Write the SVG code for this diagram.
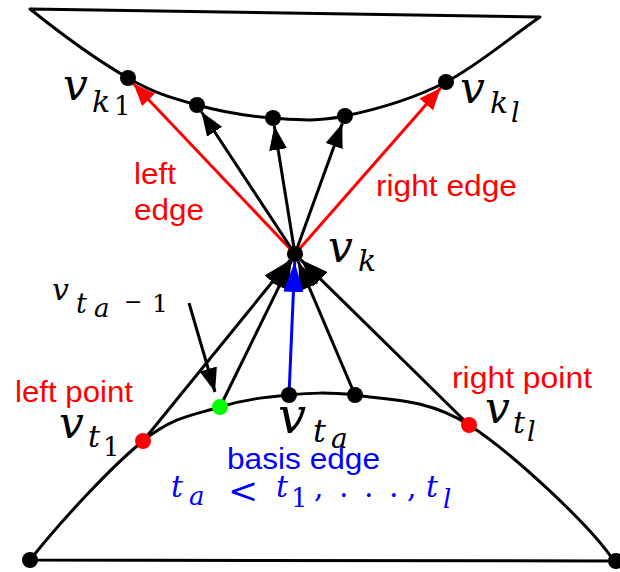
<svg xmlns="http://www.w3.org/2000/svg" width="620" height="572" viewBox="0 0 620 572">
<style>
.curve{fill:none;stroke:#000;stroke-width:3;stroke-linejoin:round}
.blk{stroke:#000;stroke-width:3;fill:none}
.red{stroke:#ff0000;stroke-width:3;fill:none}
.blue{stroke:#0000ff;stroke-width:3;fill:none}
.lbl{font-family:"Liberation Sans",Arial,sans-serif;font-size:30px}
.math{font-family:"DejaVu Serif","Liberation Serif",serif;font-style:italic;fill:#000}
.bm{font-family:"DejaVu Serif","Liberation Serif",serif;font-style:italic;fill:#0000ff}
.up{font-style:normal}
</style>
<defs>
<marker id="aBlkS" markerUnits="userSpaceOnUse" markerWidth="24" markerHeight="18" viewBox="0 0 24 18" refX="24" refY="9" orient="auto"><path d="M0,0 L24,9 L0,18 z" fill="#000"/></marker>
<marker id="aRedS" markerUnits="userSpaceOnUse" markerWidth="22" markerHeight="18" viewBox="0 0 22 18" refX="22" refY="9" orient="auto"><path d="M0,0 L22,9 L0,18 z" fill="#ff0000"/></marker>
<marker id="aBlkB" markerUnits="userSpaceOnUse" markerWidth="28" markerHeight="20" viewBox="0 0 28 20" refX="28" refY="10" orient="auto"><path d="M0,0 L28,10 L0,20 z" fill="#000"/></marker>
<marker id="aBlueB" markerUnits="userSpaceOnUse" markerWidth="30" markerHeight="20" viewBox="0 0 30 20" refX="30" refY="10" orient="auto"><path d="M0,0 L30,10 L0,20 z" fill="#0000ff"/></marker>
</defs>

<g id="top-region">
<path class="curve" d="M30,9 L540,17 C508,39 477.8,65.5 446,82 C414.2,98.5 373.8,110 345,116 C316.2,122 297.7,119.8 273,118 C248.3,116.2 221.2,111.7 197,105 C172.8,98.3 155.8,94 128,78 C100.2,62 60,33 30,9 Z"/>
</g>
<g id="bottom-region">
<path class="curve" d="M30,560 C60,522 111.3,466.5 143,441 C174.7,415.5 195.7,414.7 220,407 C244.3,399.3 266.5,397 289,395 C311.5,393 325,392 355,395 C385,400 425.8,397.3 469,425 C512.2,452.7 590,525 614,561 L30,560"/>
</g>

<g id="connectors">
<line class="red" x1="295" y1="254" x2="133.5" y2="83.8" marker-end="url(#aRedS)"/>
<line class="red" x1="295" y1="254" x2="440.7" y2="88" marker-end="url(#aRedS)"/>
<line class="blk" x1="295" y1="254" x2="201.4" y2="111.7" marker-end="url(#aBlkS)"/>
<line class="blk" x1="295" y1="254" x2="274.3" y2="125.9" marker-end="url(#aBlkS)"/>
<line class="blk" x1="295" y1="254" x2="342.3" y2="123.5" marker-end="url(#aBlkS)"/>
<line class="blk" x1="143" y1="441" x2="290" y2="260.2" marker-end="url(#aBlkB)"/>
<line class="blk" x1="220" y1="407" x2="291.5" y2="261.2" marker-end="url(#aBlkB)"/>
<line class="blk" x1="355" y1="395" x2="298.1" y2="261.4" marker-end="url(#aBlkB)"/>
<line class="blk" x1="469" y1="425" x2="300.7" y2="259.6" marker-end="url(#aBlkB)"/>
<line class="blue" x1="289" y1="395" x2="294.7" y2="262" marker-end="url(#aBlueB)"/>
<line class="blk" x1="189" y1="303" x2="215" y2="392" marker-end="url(#aBlkS)"/>
</g>

<g id="v_k1"><circle cx="128" cy="78" r="8"/>
<text class="math"><tspan x="63" y="100" font-size="44">v</tspan><tspan x="92" y="112" font-size="30">k</tspan><tspan class="up" x="114" y="115" font-size="26">1</tspan></text></g>
<g id="k_p2"><circle cx="197" cy="105" r="8"/></g>
<g id="k_p3"><circle cx="273" cy="118" r="8"/></g>
<g id="k_p4"><circle cx="345" cy="116" r="8"/></g>
<g id="v_kl"><circle cx="446" cy="82" r="8"/>
<text class="math"><tspan x="460" y="103" font-size="44">v</tspan><tspan x="490" y="113" font-size="30">k</tspan><tspan x="511" y="122" font-size="27">l</tspan></text></g>
<g id="v_k"><circle cx="295" cy="254" r="8"/>
<text class="math"><tspan x="328" y="262" font-size="44">v</tspan><tspan x="358" y="271" font-size="30">k</tspan></text></g>

<g id="v_t1"><circle cx="143" cy="441" r="8" fill="#ff0000"/>
<text class="math"><tspan x="59" y="438" font-size="44">v</tspan><tspan x="88" y="447" font-size="30">t</tspan><tspan class="up" x="103" y="456" font-size="26">1</tspan></text></g>
<g id="v_ta-1"><circle cx="220" cy="407" r="8" fill="#00ff00"/>
<text class="math"><tspan x="52" y="300" font-size="30">v</tspan><tspan x="76" y="313" font-size="27">t</tspan><tspan x="94" y="317" font-size="26">a</tspan><tspan class="up" x="124" y="309" font-size="22">−</tspan><tspan class="up" x="152" y="312" font-size="25">1</tspan></text></g>
<g id="v_ta"><circle cx="289" cy="395" r="8"/>
<text class="math"><tspan x="278" y="433" font-size="50">v</tspan><tspan x="313" y="442" font-size="32">t</tspan><tspan x="331" y="448" font-size="28">a</tspan></text></g>
<g id="t_p4"><circle cx="355" cy="395" r="8"/></g>
<g id="v_tl"><circle cx="469" cy="425" r="8" fill="#ff0000"/>
<text class="math"><tspan x="485" y="423" font-size="44">v</tspan><tspan x="513" y="433" font-size="30">t</tspan><tspan x="527" y="441" font-size="27">l</tspan></text></g>
<g id="bl"><circle cx="30" cy="560" r="8"/></g>
<g id="br"><circle cx="616" cy="561" r="8"/></g>

<g id="labels">
<text class="lbl" fill="#ff0000" x="134" y="184" textLength="42" lengthAdjust="spacingAndGlyphs">left</text>
<text class="lbl" fill="#ff0000" x="134" y="220" textLength="70" lengthAdjust="spacingAndGlyphs">edge</text>
<text class="lbl" fill="#ff0000" x="376" y="196" textLength="141" lengthAdjust="spacingAndGlyphs">right edge</text>
<text class="lbl" fill="#ff0000" x="15" y="402" textLength="118" lengthAdjust="spacingAndGlyphs">left point</text>
<text class="lbl" fill="#ff0000" x="452" y="388" textLength="140" lengthAdjust="spacingAndGlyphs">right point</text>
<text class="lbl" fill="#0000ff" x="227" y="469" font-size="29" textLength="153" lengthAdjust="spacingAndGlyphs">basis edge</text>
<text class="bm"><tspan x="171" y="497" font-size="30">t</tspan><tspan x="189" y="505" font-size="26">a</tspan><tspan class="up" x="228" y="503" font-size="36">&lt;</tspan><tspan x="276" y="497" font-size="30">t</tspan><tspan class="up" x="291" y="507" font-size="26">1</tspan><tspan class="up" x="314" y="497" font-size="30">,</tspan><tspan class="up" x="339" y="497" font-size="30">.</tspan><tspan class="up" x="364" y="497" font-size="30">.</tspan><tspan class="up" x="389" y="497" font-size="30">.</tspan><tspan class="up" x="407" y="497" font-size="30">,</tspan><tspan x="426" y="497" font-size="30">t</tspan><tspan x="443" y="508" font-size="26">l</tspan></text>
</g>
</svg>
